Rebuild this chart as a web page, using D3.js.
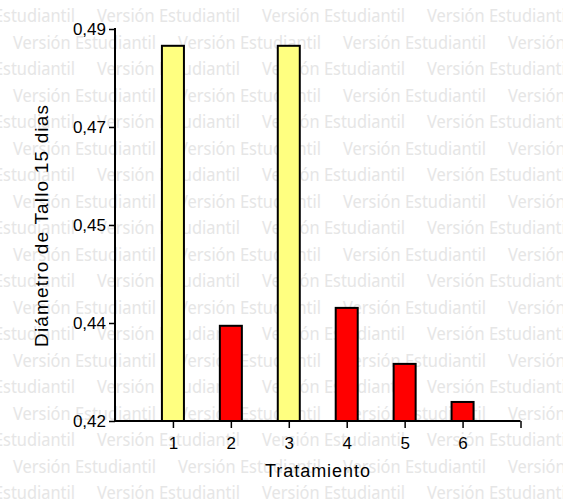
<!DOCTYPE html>
<html>
<head>
<meta charset="utf-8">
<script src="https://cdn.jsdelivr.net/npm/d3@7"></script>
<style>
  body { margin: 0; background: #fff; }
  svg { display: block; font-family: "Liberation Sans", Arial, sans-serif; }
</style>
</head>
<body>
<div id="chart"></div>
<script>
var categories = [1, 2, 3, 4, 5, 6];
var values = [0.487, 0.437, 0.487, 0.4402, 0.4302, 0.4234];
var barColors = ["#ffff80", "#ff0000", "#ffff80", "#ff0000", "#ff0000", "#ff0000"];
var yTicks = [0.42, 0.4375, 0.455, 0.4725, 0.49];
var yTickLabels = ["0,42", "0,44", "0,45", "0,47", "0,49"];
var xTicks = [1, 2, 3, 4, 5, 6, 7];
var xTickLabels = ["1", "2", "3", "4", "5", "6", ""];
var watermark = "Versión Estudiantil";

var width = 563, height = 502;

var svg = d3.select("#chart").append("svg")
    .attr("width", width)
    .attr("height", height);

/* background watermark, rows shifted by half a period */
var wm = svg.append("g").attr("class", "watermark");
for (var r = 0; r < 19; r++) {
  var x0 = (r % 2 == 0) ? -68 : 13;
  for (var c = 0; c < 5; c++) {
    wm.append("text")
      .attr("x", x0 + c * 165)
      .attr("y", 22 + r * 26.5)
      .attr("font-size", 17.5)
      .attr("font-family", "'Noto Sans', 'Open Sans', sans-serif")
      .attr("fill", "#e6e6e6")
      .attr("textLength", 143)
      .attr("lengthAdjust", "spacingAndGlyphs")
      .text(watermark);
  }
}

var x = d3.scaleLinear().domain([0, 7]).range([115, 520.5]),
    y = d3.scaleLinear().domain([0.42, 0.49]).range([421, 29]);

var barW = 0.38;

svg.append("g").attr("class", "bars")
  .selectAll("rect")
  .data(categories)
  .enter().append("rect")
    .attr("x", function(d) { return x(d - barW / 2); })
    .attr("y", function(d, i) { return y(values[i]); })
    .attr("width", function(d) { return x(d + barW / 2) - x(d - barW / 2); })
    .attr("height", function(d, i) { return y(0.42) - y(values[i]); })
    .attr("fill", function(d, i) { return barColors[i]; })
    .attr("stroke", "#000")
    .attr("stroke-width", 2);

var yAxis = d3.axisLeft(y)
    .tickValues(yTicks)
    .tickFormat(function(d, i) { return yTickLabels[i]; })
    .tickSizeInner(6)
    .tickSizeOuter(0)
    .tickPadding(3);

var xAxis = d3.axisBottom(x)
    .tickValues(xTicks)
    .tickFormat(function(d, i) { return xTickLabels[i]; })
    .tickSizeInner(7)
    .tickSizeOuter(0)
    .tickPadding(9);

var gY = svg.append("g")
    .attr("class", "axis axis--y")
    .attr("transform", "translate(115,0)")
    .call(yAxis);

var gX = svg.append("g")
    .attr("class", "axis axis--x")
    .attr("transform", "translate(0,421)")
    .call(xAxis);

svg.selectAll(".axis path").attr("d", null);
gY.append("line").attr("x1", 0).attr("x2", 0).attr("y1", y(0.49) - 1).attr("y2", y(0.42) + 1)
  .attr("stroke", "#000").attr("stroke-width", 2);
gX.append("line").attr("x1", x(0)).attr("x2", x(7)).attr("y1", 0).attr("y2", 0)
  .attr("stroke", "#000").attr("stroke-width", 2);

svg.selectAll(".axis .tick line").attr("stroke", "#000").attr("stroke-width", 1.5);
svg.selectAll(".axis text")
  .attr("fill", "#000")
  .attr("font-size", 17)
  .attr("font-family", "'Liberation Sans', Arial, sans-serif");

svg.append("text")
    .attr("class", "y label")
    .attr("transform", "translate(48,226) rotate(-90)")
    .attr("text-anchor", "middle")
    .attr("font-size", 19)
    .attr("textLength", 242)
    .attr("lengthAdjust", "spacing")
    .text("Diámetro de Tallo 15 dias");

svg.append("text")
    .attr("class", "x label")
    .attr("x", 265)
    .attr("y", 477)
    .attr("font-size", 18)
    .attr("textLength", 105)
    .attr("lengthAdjust", "spacing")
    .text("Tratamiento");
</script>
</body>
</html>
